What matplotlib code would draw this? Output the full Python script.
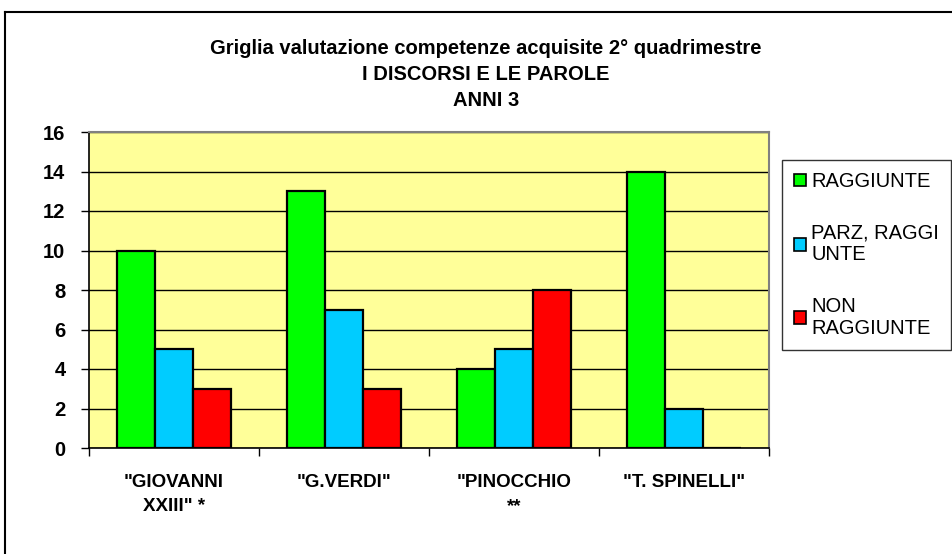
import matplotlib.pyplot as plt
from matplotlib.lines import Line2D
from matplotlib.patches import Patch
import numpy as np

plt.rcParams["font.family"] = ["Liberation Sans", "DejaVu Sans"]

schools = ['"GIOVANNI\nXXIII" *', '"G.VERDI"', '"PINOCCHIO\n**', '"T. SPINELLI"']
series_names = ["RAGGIUNTE", "PARZ, RAGGI\nUNTE", "NON\nRAGGIUNTE"]
raggiunte = [10, 13, 4, 14]
parziali = [5, 7, 5, 2]
non_raggiunte = [3, 3, 8, 0]
colors = ["#00FF00", "#00CCFF", "#FF0000"]

fig = plt.figure(figsize=(9.53, 5.54), dpi=100)
ax = fig.add_axes([89 / 953, 1 - 448 / 554, 680 / 953, 316 / 554])
ax.set_facecolor("#FFFF99")

x = np.arange(len(schools))
w = 0.2235
for i, vals in enumerate([raggiunte, parziali, non_raggiunte]):
    ax.bar(x + (i - 1) * w, vals, w, color=colors[i], edgecolor="black",
           linewidth=1.6, zorder=3)

ax.set_xlim(-0.5, 3.5)
ax.set_ylim(0, 16)
ax.set_yticks(range(0, 17, 2))
ax.grid(axis="y", color="black", linewidth=1, zorder=1)
ax.set_axisbelow(True)

# tick marks between categories, labels at centers
ax.set_xticks(np.arange(-0.5, 4, 1))
ax.set_xticklabels([])
ax.set_xticks(x, minor=True)
ax.set_xticklabels(schools, minor=True, fontsize=13.5, fontweight="bold",
                   linespacing=1.5)
ax.tick_params(axis="x", which="major", length=6, width=1, direction="out")
ax.tick_params(axis="x", which="minor", length=0, pad=19)
ax.tick_params(axis="y", length=6, width=1, pad=11, labelsize=14.5)
for lab in ax.get_yticklabels():
    lab.set_fontweight("bold")

for s in ["top", "right"]:
    ax.spines[s].set_color("#808080")
    ax.spines[s].set_linewidth(1.5)
for s in ["left", "bottom"]:
    ax.spines[s].set_color("black")
    ax.spines[s].set_linewidth(1.2)

# titles
titles = ["Griglia valutazione competenze acquisite 2° quadrimestre",
          "I DISCORSI E LE PAROLE", "ANNI 3"]
for k, t in enumerate(titles):
    fig.text(486 / 953, 1 - (49 + 26 * k) / 554, t, ha="center", va="center",
             fontsize=14.5, fontweight="bold")

# legend
handles = [Patch(facecolor=c, edgecolor="black", linewidth=1.2) for c in colors]
leg = fig.legend(handles, series_names, loc="upper left",
                 bbox_to_anchor=(782 / 953, 1 - 160 / 554), fontsize=14.5,
                 frameon=True, fancybox=False, edgecolor="black",
                 handlelength=0.6, handleheight=0.6, handletextpad=0.25,
                 labelspacing=1.6, borderpad=0.6, borderaxespad=0)
leg.get_frame().set_linewidth(1)

# outer chart border (top and left visible)
fig.add_artist(Line2D([5 / 953, 1], [1 - 12 / 554] * 2, color="black", lw=1.5,
                      transform=fig.transFigure))
fig.add_artist(Line2D([5 / 953] * 2, [0, 1 - 12 / 554], color="black", lw=1.5,
                      transform=fig.transFigure))

fig.savefig("out.png", dpi=100)
